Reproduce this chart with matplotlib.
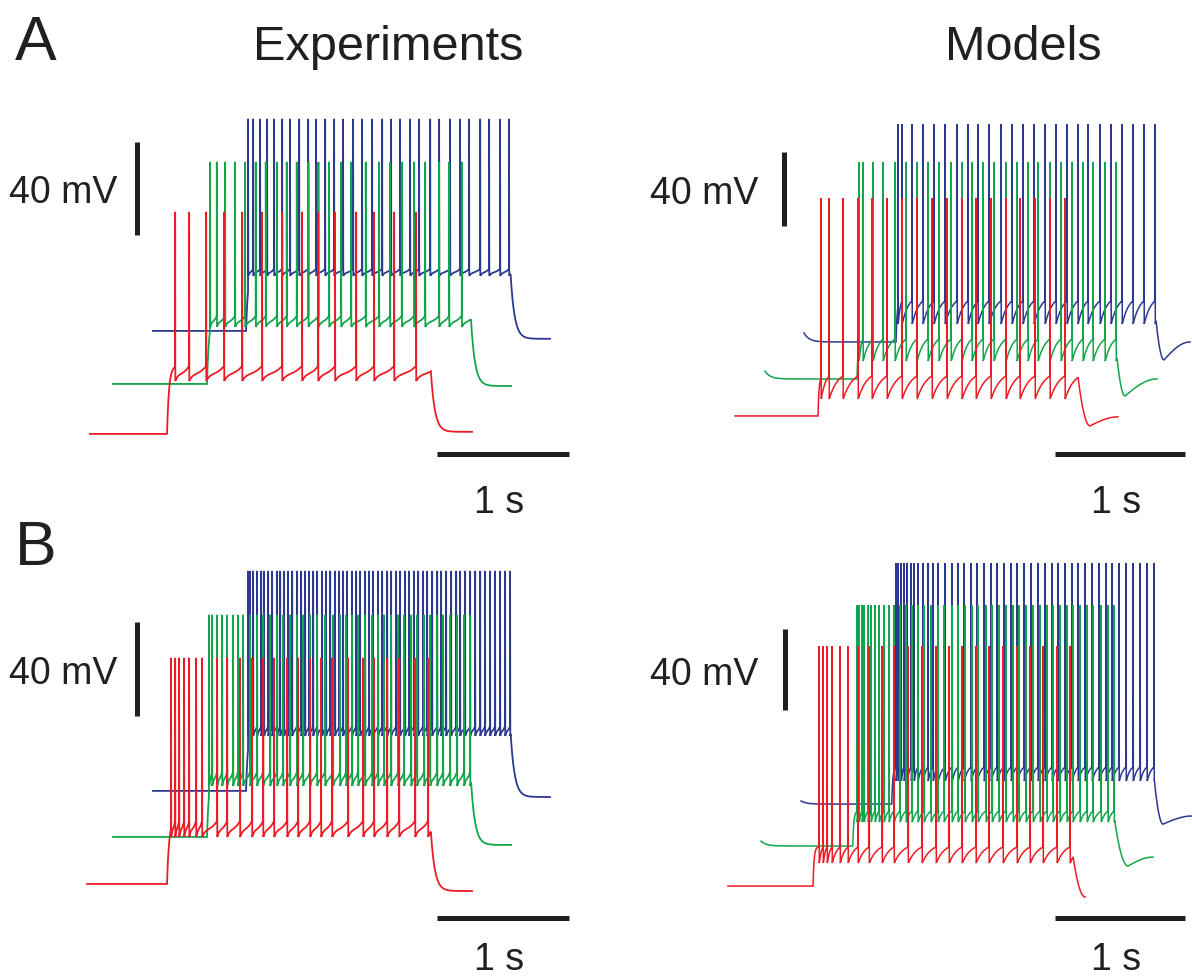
import numpy as np
import matplotlib.pyplot as plt

plt.rcParams['font.family'] = ['Liberation Sans', 'DejaVu Sans']

# ---- data (ms from red step onset, mV relative to red rest) ----
# order inside every list: red, green, blue

# A, experiments
A_EXP_START = [-585, -409, -106]
A_EXP_ONSET = [0, 303, 599]
A_EXP_OFFSET = [2000, 2304, 2604]
A_EXP_END = [2312, 2608, 2903]
A_EXP_REST = [0.0, 21.5, 44.3]
A_EXP_TROUGH = [22.8, 46.0, 68.0]
A_EXP_THRESH = [29.2, 50.8, 71.0]
A_EXP_PEAK = [95.5, 117.0, 135.5]
A_EXP_FINAL = [0.9, 20.6, 40.9]
A_EXP_SPIKES_RED = [61, 167, 296, 432, 569, 720, 872, 1023, 1145, 1273, 1433, 1569, 1721, 1887]
A_EXP_SPIKES_GREEN = [326, 377, 440, 515, 591, 672, 748, 832, 907, 983, 1071, 1147, 1228, 1319,
                      1395, 1506, 1607, 1690, 1779, 1872, 1956, 2062, 2138, 2234]
A_EXP_SPIKES_BLUE = [614, 652, 705, 758, 811, 872, 932, 1001, 1069, 1129, 1198, 1266, 1334, 1410,
                     1478, 1554, 1630, 1698, 1766, 1842, 1910, 1994, 2062, 2145, 2221, 2289, 2373,
                     2441, 2524, 2592]

# A, models
A_MOD_START = [-638, -408, -108]
A_MOD_ONSET = [0, 300, 600]
A_MOD_OFFSET = [2000, 2300, 2600]
A_MOD_END = [2307, 2607, 2861]
A_MOD_INIT = [0.0, 24.3, 44.9]
A_MOD_REST = [0.0, 20.0, 40.0]
A_MOD_TROUGH = [9.2, 29.7, 49.7]
A_MOD_THRESH = [21.6, 41.6, 62.2]
A_MOD_PEAK = [117.8, 137.3, 157.8]
A_MOD_MIN = [-5.4, 10.8, 30.3]
A_MOD_T_MIN = [2092, 2361, 2661]
A_MOD_FINAL = [-0.5, 20.0, 40.0]
A_MOD_SPIKES_RED = [23, 85, 192, 308, 415, 531, 646, 761, 877, 992, 1107, 1215, 1330, 1446,
                    1553, 1669, 1784, 1899]
A_MOD_SPIKES_GREEN = [315, 346, 423, 500, 592, 677, 761, 846, 930, 1023, 1107, 1184, 1269, 1353,
                      1446, 1530, 1615, 1692, 1784, 1869, 1953, 2038, 2115, 2207, 2292]
A_MOD_SPIKES_BLUE = [615, 646, 723, 807, 892, 977, 1069, 1154, 1230, 1315, 1407, 1492, 1576, 1661,
                     1746, 1830, 1915, 1999, 2076, 2169, 2253, 2338, 2422, 2507, 2592]

# B, experiments
B_EXP_START = [-606, -409, -106]
B_EXP_ONSET = [0, 303, 599]
B_EXP_OFFSET = [2000, 2305, 2605]
B_EXP_END = [2312, 2608, 2903]
B_EXP_REST = [0.0, 20.0, 39.6]
B_EXP_TROUGH = [20.0, 41.7, 63.0]
B_EXP_THRESH = [26.8, 47.7, 67.2]
B_EXP_PEAK = [96.2, 114.5, 133.2]
B_EXP_FINAL = [-3.0, 16.6, 37.0]
B_EXP_SPIKES_RED = [30, 61, 91, 129, 167, 220, 265, 379, 455, 553, 644, 728, 811, 910, 993, 1084,
                    1167, 1251, 1372, 1486, 1569, 1668, 1759, 1880, 1978]
B_EXP_SPIKES_GREEN = [318, 341, 379, 417, 455, 500, 538, 576, 629, 682, 728, 781, 834, 879, 932,
                      985, 1031, 1084, 1137, 1198, 1258, 1311, 1357, 1402, 1448, 1501, 1554, 1599,
                      1645, 1698, 1751, 1796, 1850, 1895, 1948, 1994, 2047, 2092, 2145, 2198, 2251,
                      2297]
B_EXP_SPIKES_BLUE = [614, 629, 652, 682, 713, 735, 766, 796, 834, 857, 887, 917, 948, 985, 1016,
                     1046, 1076, 1107, 1137, 1175, 1205, 1236, 1273, 1304, 1334, 1364, 1402, 1433,
                     1463, 1501, 1531, 1561, 1599, 1630, 1668, 1698, 1736, 1766, 1804, 1834, 1872,
                     1903, 1940, 1971, 2009, 2047, 2077, 2115, 2153, 2191, 2221, 2259, 2297, 2335,
                     2373, 2410, 2448, 2486, 2524, 2562, 2600]

# B, models
B_MOD_START = [-654, -400, -92]
B_MOD_ONSET = [0, 305, 605]
B_MOD_OFFSET = [2000, 2320, 2625]
B_MOD_END = [2092, 2615, 2915]
B_MOD_INIT = [0.0, 22.2, 42.0]
B_MOD_REST = [0.0, 19.8, 40.5]
B_MOD_TROUGH = [11.4, 31.6, 51.9]
B_MOD_THRESH = [19.3, 37.0, 58.8]
B_MOD_PEAK = [118.5, 138.8, 159.5]
B_MOD_MIN = [-5.4, 9.9, 30.6]
B_MOD_T_MIN = [2092, 2422, 2692]
B_MOD_FINAL = [-5.4, 14.3, 34.6]
B_MOD_SPIKES_RED = [46, 77, 108, 146, 208, 269, 346, 431, 531, 623, 731, 838, 946, 1046, 1146,
                    1253, 1353, 1461, 1569, 1669, 1769, 1876, 1976]
B_MOD_SPIKES_GREEN = [338, 354, 377, 392, 423, 446, 477, 508, 546, 584, 623, 669, 715, 761, 807,
                      854, 907, 961, 1007, 1069, 1115, 1169, 1223, 1269, 1330, 1377, 1430, 1484,
                      1538, 1584, 1638, 1692, 1746, 1799, 1846, 1899, 1953, 1999, 2053, 2107,
                      2153, 2215, 2268, 2315]
B_MOD_SPIKES_BLUE = [638, 654, 677, 700, 723, 754, 777, 807, 846, 884, 923, 961, 1015, 1069, 1115,
                     1161, 1215, 1261, 1315, 1369, 1415, 1469, 1523, 1569, 1623, 1676, 1730, 1784,
                     1838, 1884, 1938, 1992, 2038, 2092, 2146, 2199, 2253, 2299, 2353, 2407, 2461,
                     2515, 2568, 2622]

COLORS = ['#ED1C24', '#12A64A', '#2B3990']
INK = '#231F20'
W, H = 1192, 978


def ramp_shape(u, model):
    u = np.clip(u, 0, 1)
    if model:
        return (1 - np.exp(-1.6 * u)) / (1 - np.exp(-1.6))
    return 0.5 * (1 - np.exp(-5 * u)) / (1 - np.exp(-5)) + 0.5 * u ** 3


def build_trace(t0, t_on, t_off, t1, v_init, v_rest, v_trough, v_thr, v_peak, spikes,
                v_final, model, v_min=None, t_min=None):
    ts, vs = [], []
    # resting period before the current step
    tt = np.linspace(t0, t_on, 150)
    vv = v_rest + (v_init - v_rest) * np.exp(-(tt - t0) / 40.0)
    ts += list(tt)
    vs += list(vv)
    # depolarisation up to the first spike
    tau_on = 8.0 if model else 15.0
    tt = np.linspace(t_on, spikes[0], 40)
    vv = v_rest + (v_thr - v_rest) * (1 - np.exp(-(tt - t_on) / tau_on))
    ts += list(tt)
    vs += list(vv)
    prev_isi = spikes[1] - spikes[0] if len(spikes) > 1 else 100.0
    for i, s in enumerate(spikes):
        ts += [s + 0.6]
        vs += [v_peak]
        start = s + 2.0
        if i + 1 < len(spikes):
            stop = spikes[i + 1]
            span = stop - start
            prev_isi = spikes[i + 1] - s
        else:
            stop = t_off
            span = prev_isi - 2.0
        tt = np.linspace(start, stop, 30)
        vv = v_trough + (v_thr - v_trough) * ramp_shape((tt - start) / span, model)
        ts += list(tt)
        vs += list(vv)
    v_off = vs[-1]
    # after the step
    if model:
        tt = np.linspace(t_off, t_min, 40)
        u = (tt - t_off) / (t_min - t_off)
        vv = v_min + (v_off - v_min) * (1 - u) ** 2
        ts += list(tt)
        vs += list(vv)
        if t1 > t_min:
            tt = np.linspace(t_min, t1, 60)
            w = (tt - t_min) / (t1 - t_min)
            vv = v_min + (v_final - v_min) * np.sin(np.pi / 2 * w)
            ts += list(tt)
            vs += list(vv)
    else:
        tt = np.linspace(t_off, t1, 120)
        vv = v_final + (v_off - v_final) * np.exp(-(tt - t_off) / 30.0)
        ts += list(tt)
        vs += list(vv)
    return np.array(ts), np.array(vs)


def panel_axes(fig, left_px, top_px, width_px, height_px, t_left, v_bottom, ms_px, mv_px):
    ax = fig.add_axes([left_px / W, 1 - (top_px + height_px) / H, width_px / W, height_px / H])
    ax.set_xlim(t_left, t_left + width_px * ms_px)
    ax.set_ylim(v_bottom, v_bottom + height_px * mv_px)
    ax.set_axis_off()
    return ax


def scale_bars(ax, t_bar, v_hbar, t_vbar, v_vbar, mv_dx, s_dy):
    ax.plot([t_bar, t_bar + 1000], [v_hbar, v_hbar], color=INK, lw=3.6, solid_capstyle='butt')
    ax.plot([t_vbar, t_vbar], [v_vbar, v_vbar + 40], color=INK, lw=3.6, solid_capstyle='butt')
    ax.annotate('1 s', xy=(t_bar + 500, v_hbar), xytext=(-4, s_dy), textcoords='offset pixels',
                ha='center', va='baseline', fontsize=27, color=INK, annotation_clip=False)
    ax.annotate('40 mV', xy=(t_vbar, v_vbar + 20), xytext=(mv_dx, -14), textcoords='offset pixels',
                ha='right', va='baseline', fontsize=27, color=INK)


def draw_traces(ax, starts, onsets, offsets, ends, inits, rests, troughs, threshs, peaks, finals,
                spike_lists, model, mins=None, t_mins=None):
    for k in [2, 1, 0]:
        t, v = build_trace(starts[k], onsets[k], offsets[k], ends[k], inits[k], rests[k],
                           troughs[k], threshs[k], peaks[k], spike_lists[k], finals[k], model,
                           mins[k] if model else None, t_mins[k] if model else None)
        ax.plot(t, v, color=COLORS[k], lw=1.1 if model else 1.3, solid_joinstyle='miter')


fig = plt.figure(figsize=(W / 100, H / 100), dpi=100)

ax = panel_axes(fig, 0, 90, 596, 430, -1266, -36.6, 7.58, 1 / 2.325)
draw_traces(ax, A_EXP_START, A_EXP_ONSET, A_EXP_OFFSET, A_EXP_END, A_EXP_REST, A_EXP_REST,
            A_EXP_TROUGH, A_EXP_THRESH, A_EXP_PEAK, A_EXP_FINAL,
            [A_EXP_SPIKES_RED, A_EXP_SPIKES_GREEN, A_EXP_SPIKES_BLUE], False)
scale_bars(ax, 2047, -8.6, -224, 85.6, -20, -58)

ax = panel_axes(fig, 596, 90, 596, 430, -1707, -55.7, 7.69, 1 / 1.85)
draw_traces(ax, A_MOD_START, A_MOD_ONSET, A_MOD_OFFSET, A_MOD_END, A_MOD_INIT, A_MOD_REST,
            A_MOD_TROUGH, A_MOD_THRESH, A_MOD_PEAK, A_MOD_FINAL,
            [A_MOD_SPIKES_RED, A_MOD_SPIKES_GREEN, A_MOD_SPIKES_BLUE], True,
            A_MOD_MIN, A_MOD_T_MIN)
scale_bars(ax, 1823, -20.5, -258, 102.7, -26, -58)

ax = panel_axes(fig, 0, 520, 596, 458, -1266, -39.6, 7.58, 1 / 2.35)
draw_traces(ax, B_EXP_START, B_EXP_ONSET, B_EXP_OFFSET, B_EXP_END, B_EXP_REST, B_EXP_REST,
            B_EXP_TROUGH, B_EXP_THRESH, B_EXP_PEAK, B_EXP_FINAL,
            [B_EXP_SPIKES_RED, B_EXP_SPIKES_GREEN, B_EXP_SPIKES_BLUE], False)
scale_bars(ax, 2047, -14.5, -224, 71.5, -20, -51)

ax = panel_axes(fig, 596, 520, 596, 458, -1669, -44.9, 7.69, 1 / 2.025)
draw_traces(ax, B_MOD_START, B_MOD_ONSET, B_MOD_OFFSET, B_MOD_END, B_MOD_INIT, B_MOD_REST,
            B_MOD_TROUGH, B_MOD_THRESH, B_MOD_PEAK, B_MOD_FINAL,
            [B_MOD_SPIKES_RED, B_MOD_SPIKES_GREEN, B_MOD_SPIKES_BLUE], True,
            B_MOD_MIN, B_MOD_T_MIN)
scale_bars(ax, 1861, -15.8, -219, 86.9, -26, -51)

fig.text(15 / W, 1 - 60 / H, 'A', fontsize=45, color=INK, va='baseline', ha='left')
fig.text(15 / W, 1 - 565 / H, 'B', fontsize=45, color=INK, va='baseline', ha='left')
fig.text(388 / W, 1 - 60 / H, 'Experiments', fontsize=35, color=INK, va='baseline', ha='center')
fig.text(1023 / W, 1 - 60 / H, 'Models', fontsize=35, color=INK, va='baseline', ha='center')

fig.savefig('out.png', dpi=100)
